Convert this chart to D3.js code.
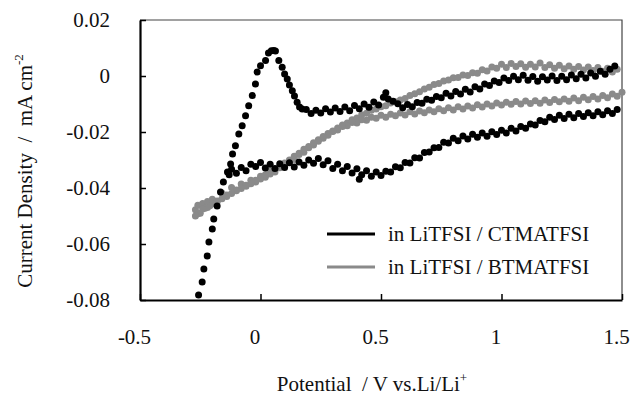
<!DOCTYPE html>
<html>
  <head>
    <meta charset="utf-8">
    <title>CV</title>
    <script src="https://d3js.org/d3.v7.min.js"></script>
    <style>
    body{margin:0; background:white;}
    svg{display:block; background:white;}
    text{font-family:"Liberation Serif","Times New Roman",serif; fill:#111;}
    </style>
  </head>
  <body>
    <script>
    // data: potential (V vs Li/Li+), current density (mA cm-2)
    const blackAnodic = [
      [-0.257,-0.0782],[-0.242,-0.0736],[-0.235,-0.0689],[-0.221,-0.0643],[-0.214,-0.0593],[-0.200,-0.0546],
      [-0.194,-0.0511],[-0.180,-0.0464],[-0.166,-0.0414],[-0.154,-0.0379],[-0.137,-0.0343],[-0.124,-0.0314],
      [-0.116,-0.0279],[-0.104,-0.0249],[-0.090,-0.0207],[-0.076,-0.0178],[-0.062,-0.0142],[-0.049,-0.0106],
      [-0.034,-0.0070],[-0.021,-0.0029],[-0.014,0.0014],[0.000,0.0037],[0.021,0.0055],[0.033,0.0082],
      [0.045,0.0090],[0.055,0.0091],[0.062,0.0089],[0.076,0.0055],[0.090,0.0031],[0.100,0.0007],
      [0.111,-0.0011],[0.120,-0.0032],[0.132,-0.0053],[0.141,-0.0071],[0.152,-0.0094],[0.162,-0.0111],
      [0.173,-0.0118],[0.19,-0.0120],[0.21,-0.0134],[0.23,-0.0122],[0.25,-0.0132],[0.27,-0.0117],
      [0.29,-0.0129],[0.31,-0.0114],[0.33,-0.0127],[0.35,-0.0111],[0.37,-0.0124],[0.39,-0.0105],
      [0.41,-0.0117],[0.43,-0.0100],[0.45,-0.0112],[0.47,-0.0093],[0.49,-0.0104],[0.51,-0.0076],
      [0.52,-0.0060],[0.53,-0.0082],[0.55,-0.0090],[0.57,-0.0099],[0.59,-0.0113],[0.61,-0.0102],
      [0.63,-0.0110],[0.65,-0.0095],[0.67,-0.0097],[0.69,-0.0083],[0.71,-0.0087],[0.73,-0.0073],
      [0.75,-0.0078],[0.77,-0.0062],[0.79,-0.0071],[0.81,-0.0055],[0.83,-0.0064],[0.85,-0.0047],
      [0.87,-0.0057],[0.89,-0.0038],[0.91,-0.0046],[0.93,-0.0029],[0.95,-0.0034],[0.97,-0.0018],
      [0.99,-0.0023],[1.01,-0.0007],[1.03,-0.0016],[1.05,-0.0001],[1.07,-0.0013],[1.09,0.0003],
      [1.11,-0.0015],[1.13,-0.0002],[1.15,-0.0019],[1.17,-0.0003],[1.19,-0.0014],[1.21,0.0000],
      [1.23,-0.0016],[1.25,-0.0001],[1.27,-0.0013],[1.29,0.0004],[1.31,-0.0010],[1.33,0.0006],
      [1.35,-0.0007],[1.37,0.0011],[1.39,-0.0001],[1.41,0.0017],[1.43,0.0006],[1.45,0.0024],[1.47,0.0036]
    ];
    const blackCathodic = [
      [1.48,-0.0120],[1.46,-0.0134],[1.44,-0.0124],[1.42,-0.0138],[1.40,-0.0128],[1.38,-0.0142],
      [1.36,-0.0131],[1.34,-0.0145],[1.32,-0.0134],[1.30,-0.0149],[1.28,-0.0137],[1.26,-0.0152],
      [1.24,-0.0140],[1.22,-0.0155],[1.20,-0.0147],[1.18,-0.0163],[1.16,-0.0159],[1.14,-0.0175],
      [1.12,-0.0171],[1.10,-0.0187],[1.08,-0.0180],[1.06,-0.0196],[1.04,-0.0187],[1.02,-0.0204],
      [1.00,-0.0194],[0.98,-0.0209],[0.96,-0.0199],[0.94,-0.0215],[0.92,-0.0204],[0.90,-0.0219],
      [0.88,-0.0208],[0.86,-0.0225],[0.84,-0.0214],[0.82,-0.0231],[0.80,-0.0222],[0.78,-0.0239],
      [0.76,-0.0237],[0.74,-0.0255],[0.72,-0.0256],[0.70,-0.0271],[0.68,-0.0273],[0.66,-0.0293],
      [0.64,-0.0292],[0.62,-0.0311],[0.60,-0.0309],[0.58,-0.0328],[0.56,-0.0324],[0.54,-0.0343],
      [0.52,-0.0340],[0.50,-0.0355],[0.48,-0.0343],[0.46,-0.0358],[0.44,-0.0338],[0.42,-0.0353],
      [0.41,-0.0369],[0.40,-0.0331],[0.38,-0.0346],[0.36,-0.0323],[0.34,-0.0338],[0.32,-0.0315],
      [0.30,-0.0330],[0.28,-0.0303],[0.26,-0.0317],[0.24,-0.0295],[0.22,-0.0312],[0.20,-0.0300],
      [0.18,-0.0319],[0.16,-0.0307],[0.14,-0.0325],[0.12,-0.0310],[0.10,-0.0327],[0.08,-0.0313],
      [0.06,-0.0330],[0.04,-0.0315],[0.02,-0.0329],[0.00,-0.0309],[-0.02,-0.0323],[-0.04,-0.0315],
      [-0.06,-0.0338],[-0.08,-0.0327],[-0.10,-0.0347],[-0.12,-0.0333],[-0.13,-0.0353]
    ];
    const grayAnodic = [
      [-0.27,-0.0478],[-0.26,-0.0462],[-0.25,-0.0490],[-0.24,-0.0455],[-0.23,-0.0472],[-0.22,-0.0448],
      [-0.21,-0.0463],[-0.20,-0.0440],[-0.18,-0.0446],[-0.16,-0.0418],[-0.14,-0.0425],[-0.12,-0.0398],
      [-0.10,-0.0407],[-0.08,-0.0386],[-0.06,-0.0394],[-0.04,-0.0372],[-0.02,-0.0379],[0.00,-0.0358],
      [0.02,-0.0362],[0.04,-0.0340],[0.06,-0.0343],[0.08,-0.0321],[0.10,-0.0322],[0.12,-0.0300],
      [0.14,-0.0298],[0.16,-0.0276],[0.18,-0.0272],[0.20,-0.0252],[0.22,-0.0246],[0.24,-0.0228],
      [0.26,-0.0222],[0.28,-0.0205],[0.30,-0.0198],[0.32,-0.0186],[0.34,-0.0175],[0.36,-0.0168],
      [0.38,-0.0156],[0.40,-0.0150],[0.42,-0.0138],[0.44,-0.0133],[0.46,-0.0122],[0.48,-0.0118],
      [0.50,-0.0110],[0.52,-0.0106],[0.54,-0.0096],[0.56,-0.0092],[0.58,-0.0086],[0.60,-0.0080],
      [0.62,-0.0070],[0.64,-0.0063],[0.66,-0.0056],[0.68,-0.0046],[0.70,-0.0040],[0.72,-0.0030],
      [0.74,-0.0027],[0.76,-0.0018],[0.78,-0.0014],[0.80,-0.0006],[0.82,-0.0005],[0.84,0.0004],
      [0.86,0.0002],[0.88,0.0012],[0.90,0.0010],[0.92,0.0022],[0.94,0.0018],[0.96,0.0032],
      [0.98,0.0028],[1.00,0.0042],[1.02,0.0030],[1.04,0.0045],[1.06,0.0034],[1.08,0.0044],
      [1.10,0.0031],[1.12,0.0042],[1.14,0.0032],[1.16,0.0046],[1.18,0.0030],[1.20,0.0040],
      [1.22,0.0028],[1.24,0.0038],[1.26,0.0026],[1.28,0.0036],[1.30,0.0024],[1.32,0.0034],
      [1.34,0.0021],[1.36,0.0032],[1.38,0.0020],[1.40,0.0030],[1.42,0.0017],[1.44,0.0028],
      [1.46,0.0014],[1.48,0.0024]
    ];
    const grayCathodic = [
      [1.50,-0.0058],[1.48,-0.0072],[1.46,-0.0064],[1.44,-0.0078],[1.42,-0.0070],[1.40,-0.0082],
      [1.38,-0.0073],[1.36,-0.0085],[1.34,-0.0076],[1.32,-0.0088],[1.30,-0.0079],[1.28,-0.0090],
      [1.26,-0.0082],[1.24,-0.0092],[1.22,-0.0084],[1.20,-0.0095],[1.18,-0.0086],[1.16,-0.0097],
      [1.14,-0.0088],[1.12,-0.0098],[1.10,-0.0089],[1.08,-0.0100],[1.06,-0.0091],[1.04,-0.0101],
      [1.02,-0.0094],[1.00,-0.0104],[0.98,-0.0096],[0.96,-0.0107],[0.94,-0.0100],[0.92,-0.0111],
      [0.90,-0.0103],[0.88,-0.0114],[0.86,-0.0107],[0.84,-0.0118],[0.82,-0.0110],[0.80,-0.0121],
      [0.78,-0.0113],[0.76,-0.0124],[0.74,-0.0117],[0.72,-0.0128],[0.70,-0.0121],[0.68,-0.0131],
      [0.66,-0.0125],[0.64,-0.0136],[0.62,-0.0128],[0.60,-0.0139],[0.58,-0.0132],[0.56,-0.0142],
      [0.54,-0.0137],[0.52,-0.0147],[0.50,-0.0140],[0.48,-0.0151],[0.46,-0.0147],[0.44,-0.0158],
      [0.42,-0.0156],[0.40,-0.0168],[0.38,-0.0166],[0.36,-0.0178],[0.34,-0.0180],[0.32,-0.0193],
      [0.30,-0.0196],[0.28,-0.0212],[0.26,-0.0216],[0.24,-0.0233],[0.22,-0.0238],[0.20,-0.0256],
      [0.18,-0.0262],[0.16,-0.0280],[0.14,-0.0287],[0.12,-0.0305],[0.10,-0.0311],[0.08,-0.0328],
      [0.06,-0.0333],[0.04,-0.0350],[0.02,-0.0353],[0.00,-0.0368],[-0.02,-0.0372],[-0.04,-0.0385],
      [-0.06,-0.0390],[-0.08,-0.0402],[-0.10,-0.0410],[-0.12,-0.0420],[-0.14,-0.0430],[-0.16,-0.0438],
      [-0.18,-0.0450],[-0.20,-0.0456],[-0.22,-0.0470],[-0.24,-0.0475],[-0.26,-0.0492],[-0.27,-0.0500]
    ];
    const xTicks = [-0.5, 0, 0.5, 1, 1.5];
    const yTicks = [0.02, 0, -0.02, -0.04, -0.06, -0.08];
    const seriesNames = ["in LiTFSI / CTMATFSI", "in LiTFSI / BTMATFSI"];
    const seriesColors = ["#000000", "#8a8a8a"];

    // svg drawing area
    var width = 637, height = 399;
    var svg = d3.select("body").append("svg").attr("width", width).attr("height", height);

    var x = d3.scaleLinear().domain([-0.5, 1.5]).range([140, 622]);
    var y = d3.scaleLinear().domain([-0.08, 0.02]).range([300, 20]);

    // frame (top/right thin)
    svg.append("path")
      .attr("d", "M" + x(-0.5) + "," + y(0.02) + "H" + x(1.5) + "V" + y(-0.08))
      .attr("fill", "none").attr("stroke", "#444").attr("stroke-width", 1.2);

    // dots: gray first, black on top
    function dots(data, color) {
      svg.append("g").selectAll("circle")
        .data(data)
        .enter()
        .append("circle")
        .attr("cx", d => x(d[0]))
        .attr("cy", d => y(d[1]))
        .attr("r", 3.5)
        .attr("fill", color);
    }
    dots(grayAnodic, seriesColors[1]);
    dots(grayCathodic, seriesColors[1]);
    dots(blackAnodic, seriesColors[0]);
    dots(blackCathodic, seriesColors[0]);

    // axes
    var yAxis = d3.axisLeft(y).tickValues(yTicks).tickSizeInner(-6).tickSizeOuter(0).tickPadding(30)
      .tickFormat(d => String(+d.toFixed(2)));
    var gy = svg.append("g").attr("transform", "translate(" + x(-0.5) + ",0)").call(yAxis);

    var xAxis = d3.axisBottom(x).tickValues(xTicks).tickSizeInner(-6).tickSizeOuter(0).tickPadding(29)
      .tickFormat(d => String(d));
    var gx = svg.append("g").attr("transform", "translate(0," + y(-0.08) + ")").call(xAxis);

    [gx, gy].forEach(function(g) {
      g.select(".domain").attr("stroke", "#000").attr("stroke-width", 2.2);
      g.selectAll(".tick line").attr("stroke", "#000").attr("stroke-width", 1.5);
      g.selectAll(".tick text").attr("font-size", 21).attr("fill", "#111")
        .style("font-family", "'Liberation Serif','Times New Roman',serif");
    });
    gx.selectAll(".tick text").attr("dx", -6);

    // axis titles
    var xt = svg.append("text").attr("x", 372).attr("y", 391).attr("text-anchor", "middle").attr("font-size", 21);
    xt.append("tspan").text("Potential\u00a0\u00a0/ V vs.Li/Li");
    xt.append("tspan").attr("font-size", 13).attr("dy", -9).text("+");

    var yt = svg.append("text").attr("transform", "translate(32,171) rotate(-90)")
      .attr("text-anchor", "middle").attr("font-size", 21);
    yt.append("tspan").text("Current Density\u00a0\u00a0/\u00a0\u00a0mA cm");
    yt.append("tspan").attr("font-size", 13).attr("dy", -9).text("-2");

    // legend
    var legend = svg.append("g").selectAll("g")
      .data(seriesNames)
      .enter()
      .append("g")
      .attr("transform", (d, i) => "translate(327," + (234 + i * 33) + ")");
    legend.append("line").attr("x1", 0).attr("x2", 48)
      .attr("stroke", (d, i) => seriesColors[i]).attr("stroke-width", 3);
    legend.append("text").attr("x", 61).attr("dy", "0.35em").attr("font-size", 21).text(d => d);
    </script>
  </body>
</html>
